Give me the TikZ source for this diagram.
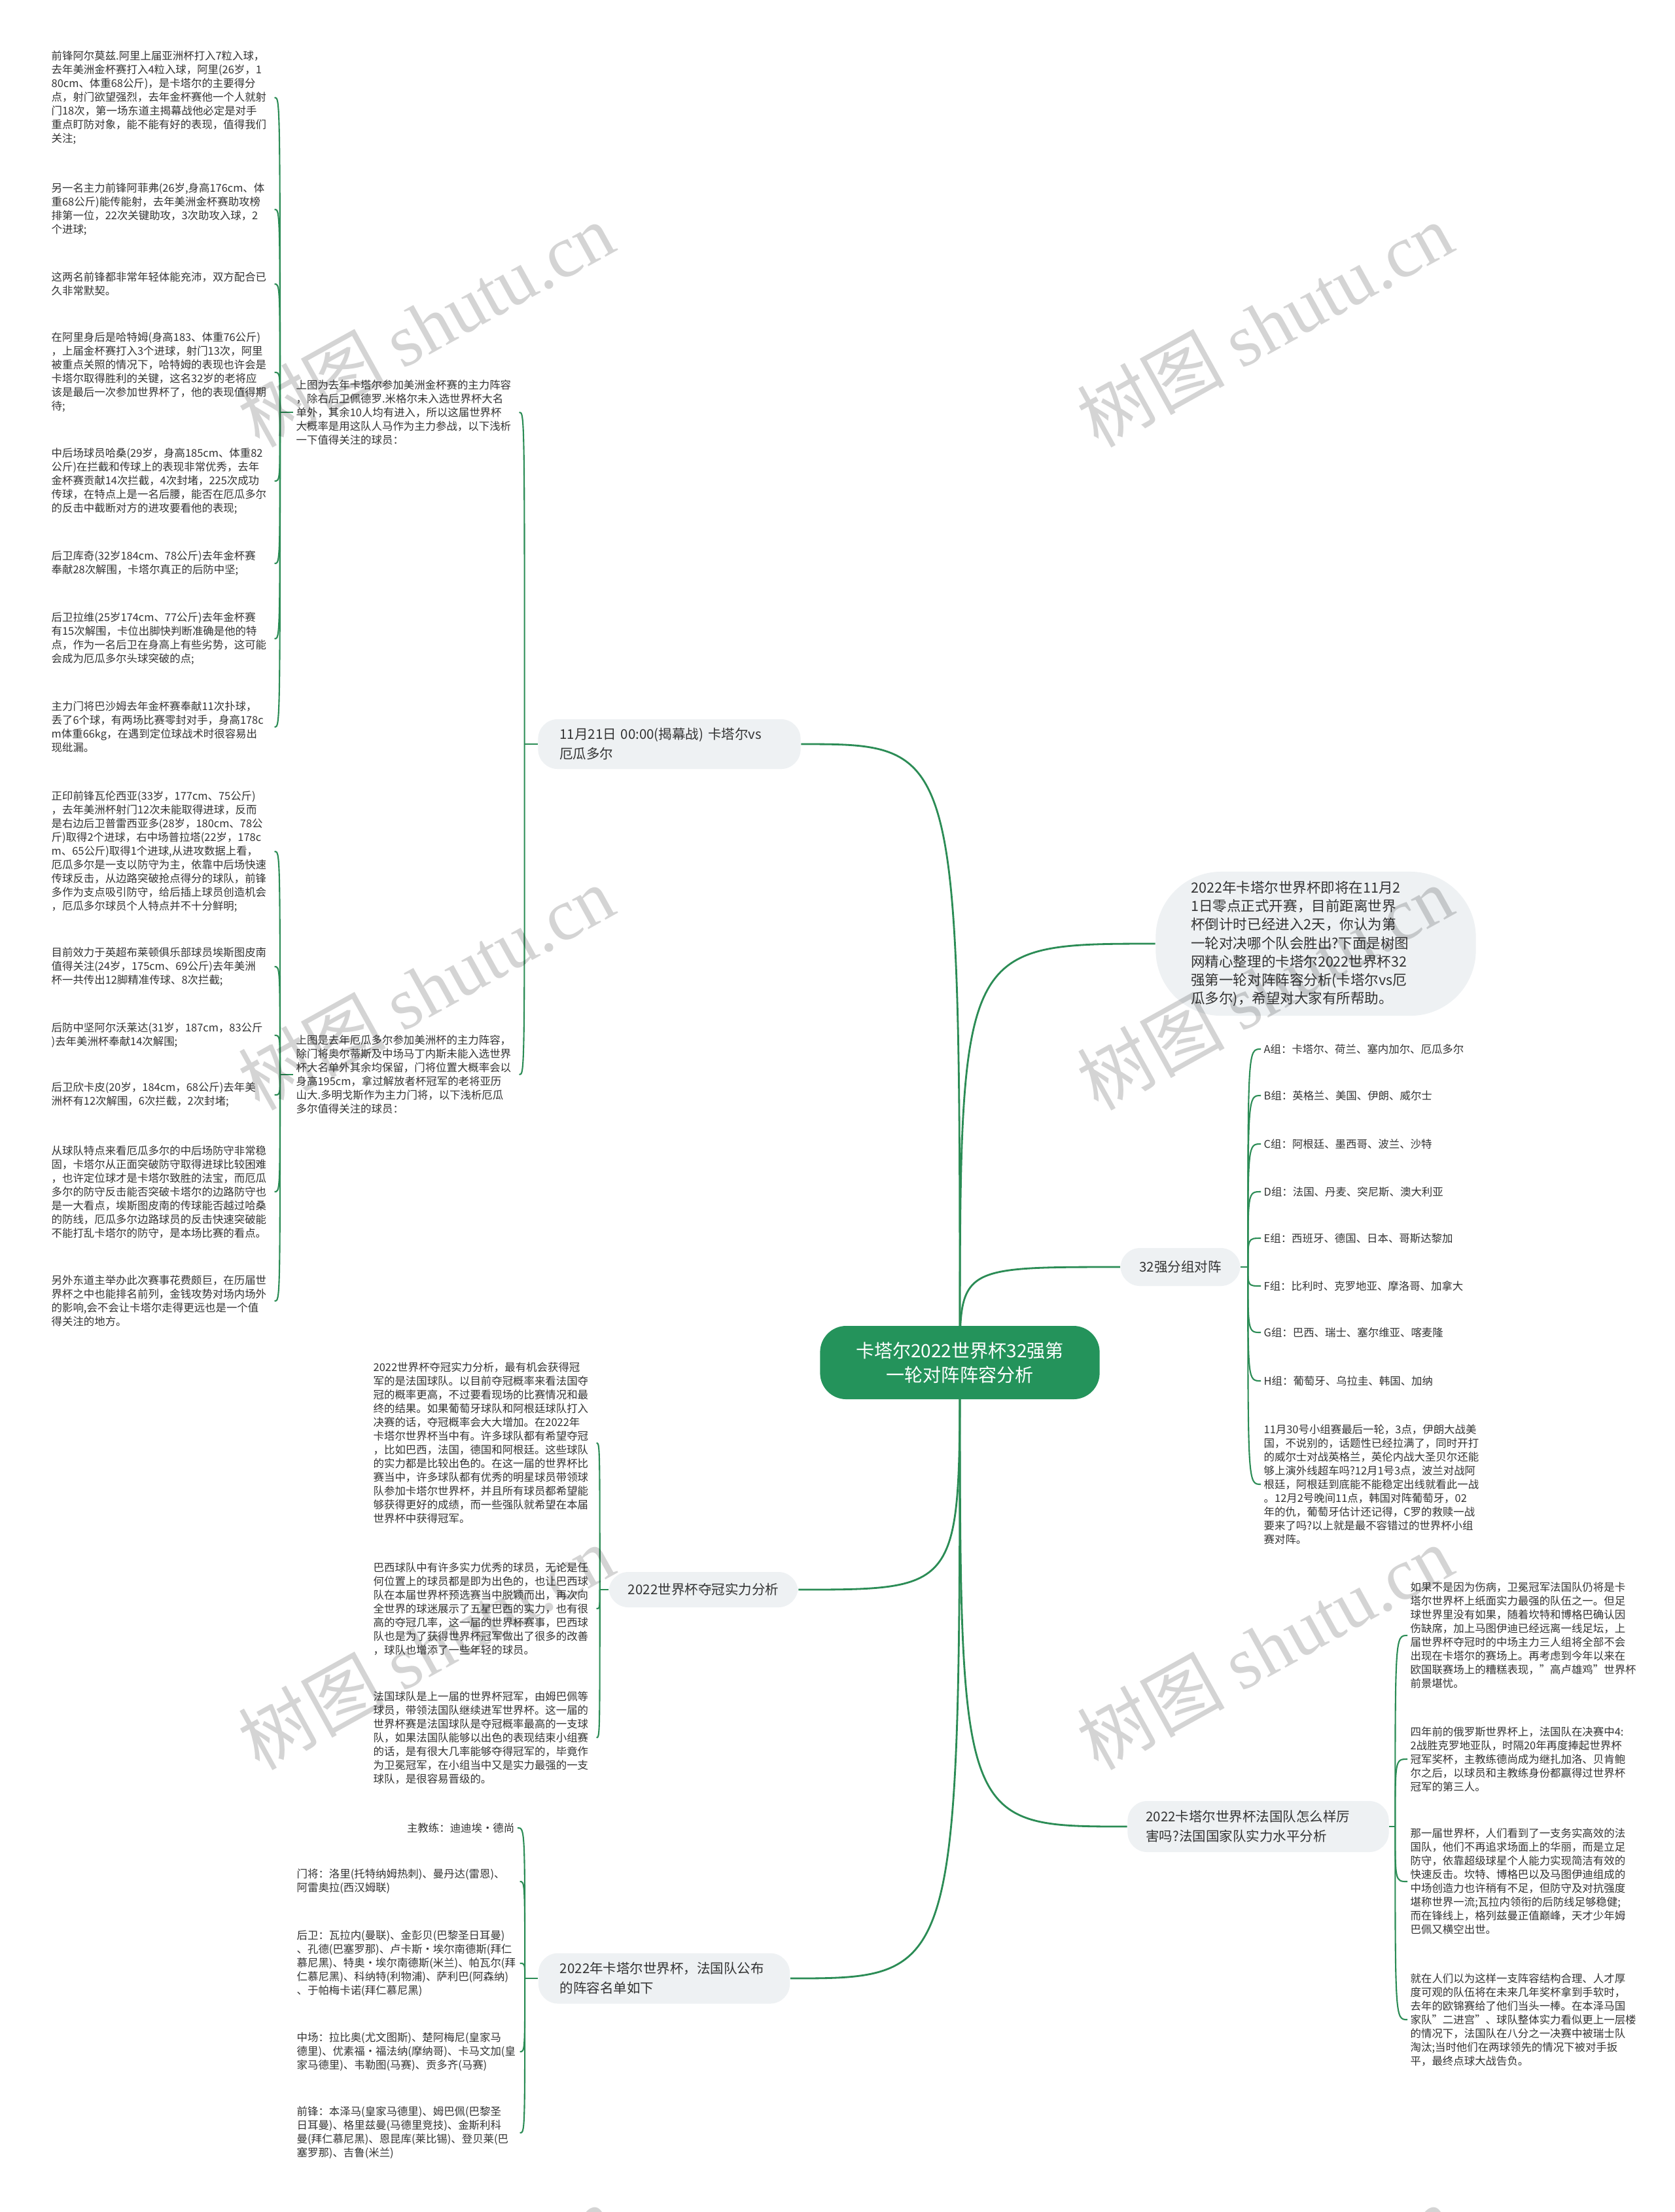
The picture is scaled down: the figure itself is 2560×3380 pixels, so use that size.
\documentclass[tikz,border=0pt]{standalone}
\usepackage{fontspec}
\setmainfont{Noto Sans CJK SC}
\newfontfamily\wmserif{Liberation Serif}
\usetikzlibrary{backgrounds}

\definecolor{mapgreen}{HTML}{2B8C55}
\definecolor{rootgreen}{HTML}{24935B}
\definecolor{boxgray}{HTML}{EEF1F3}
\definecolor{inkgray}{HTML}{333333}

\newcommand\leaffont{\fontsize{4.67pt}{5.98pt}\selectfont}
\newcommand\branchfont{\fontsize{5.83pt}{8.5pt}\selectfont}
\newcommand\rootfont{\fontsize{7.97pt}{10.5pt}\selectfont}
\newcommand\introfont{\fontsize{6.12pt}{7.97pt}\selectfont}
\newcommand\wmfont{\fontsize{32pt}{32pt}\selectfont}

\begin{document}
\begin{tikzpicture}[x=0.01cm, y=-0.01cm]
\tikzset{ leaf/.style={font=\leaffont, text=inkgray, align=left, anchor=west, inner xsep=0.04cm, inner ysep=0pt, text width=3.36cm},
  tag/.style={font=\leaffont, text=inkgray, anchor=west, inner xsep=0.04cm, inner ysep=0pt},
  branch/.style={font=\branchfont, text=inkgray, fill=boxgray, rounded corners=0.3cm, align=left, inner xsep=0.33cm, inner ysep=0pt},
  rootnode/.style={font=\rootfont, text=white, fill=rootgreen, rounded corners=0.4cm, align=center, minimum width=4.27cm, minimum height=1.12cm},
  link/.style={draw=mapgreen, line width=0.8pt},
  sublink/.style={draw=mapgreen, line width=0.6pt},
  wmark/.style={font=\wmfont, text=black, text opacity=0.17, rotate=29},
}

\useasboundingbox (0,0) rectangle (2560,3380);

% centre
\node [rootnode] (root) at (1467,2082) {卡塔尔2022世界杯32强第\\一轮对阵阵容分析};

% first level
\node [branch, text width=3.35cm, minimum height=0.76cm] (b1) at (1023,1137) {11月21日 00:00(揭幕战) 卡塔尔vs\\厄瓜多尔};
\node [branch, font=\introfont, text width=3.81cm, inner xsep=0.54cm, minimum height=2.2cm, rounded corners=1cm] (intro) at (2011,1442) {2022年卡塔尔世界杯即将在11月2\\1日零点正式开赛，目前距离世界\\杯倒计时已经进入2天，你认为第\\一轮对决哪个队会胜出?下面是树图\\网精心整理的卡塔尔2022世界杯32\\强第一轮对阵阵容分析(卡塔尔vs厄\\瓜多尔)，希望对大家有所帮助。};
\node [branch, align=center, inner xsep=0pt, minimum width=1.83cm, minimum height=0.58cm] (g32) at (1804,1936) {32强分组对阵};
\node [branch, align=center, inner xsep=0pt, minimum width=2.89cm, minimum height=0.54cm] (win) at (1075,2429) {2022世界杯夺冠实力分析};
\node [branch, text width=3.43cm, inner xsep=0.28cm, minimum height=0.78cm] (france) at (1923,2791) {2022卡塔尔世界杯法国队怎么样厉\\害吗?法国国家队实力水平分析};
\node [branch, text width=3.18cm, minimum height=0.77cm] (squad) at (1015,3023) {2022年卡塔尔世界杯，法国队公布\\的阵容名单如下};

% opening match
\node [leaf] (box1) at (448,630) {上图为去年卡塔尔参加美洲金杯赛的主力阵容\\，除右后卫佩德罗.米格尔未入选世界杯大名\\单外，其余10人均有进入，所以这届世界杯\\大概率是用这队人马作为主力参战，以下浅析\\一下值得关注的球员：};
\node [leaf] (box2) at (448,1642) {上图是去年厄瓜多尔参加美洲杯的主力阵容，\\除门将奥尔蒂斯及中场马丁内斯未能入选世界\\杯大名单外其余均保留，门将位置大概率会以\\身高195cm，拿过解放者杯冠军的老将亚历\\山大.多明戈斯作为主力门将，以下浅析厄瓜\\多尔值得关注的球员：};

\node [leaf] (c1) at (74,149) {前锋阿尔莫兹.阿里上届亚洲杯打入7粒入球，\\去年美洲金杯赛打入4粒入球，阿里(26岁，1\\80cm、体重68公斤)，是卡塔尔的主要得分\\点，射门欲望强烈，去年金杯赛他一个人就射\\门18次，第一场东道主揭幕战他必定是对手\\重点盯防对象，能不能有好的表现，值得我们\\关注;};
\node [leaf] (c2) at (74,320) {另一名主力前锋阿菲弗(26岁,身高176cm、体\\重68公斤)能传能射，去年美洲金杯赛助攻榜\\排第一位，22次关键助攻，3次助攻入球，2\\个进球;};
\node [leaf] (c3) at (74,434) {这两名前锋都非常年轻体能充沛，双方配合已\\久非常默契。};
\node [leaf] (c4) at (74,569) {在阿里身后是哈特姆(身高183、体重76公斤)\\，上届金杯赛打入3个进球，射门13次，阿里\\被重点关照的情况下，哈特姆的表现也许会是\\卡塔尔取得胜利的关键，这名32岁的老将应\\该是最后一次参加世界杯了，他的表现值得期\\待;};
\node [leaf] (c5) at (74,735) {中后场球员哈桑(29岁，身高185cm、体重82\\公斤)在拦截和传球上的表现非常优秀，去年\\金杯赛贡献14次拦截，4次封堵，225次成功\\传球，在特点上是一名后腰，能否在厄瓜多尔\\的反击中截断对方的进攻要看他的表现;};
\node [leaf] (c6) at (74,861) {后卫库奇(32岁184cm、78公斤)去年金杯赛\\奉献28次解围，卡塔尔真正的后防中坚;};
\node [leaf] (c7) at (74,976) {后卫拉维(25岁174cm、77公斤)去年金杯赛\\有15次解围，卡位出脚快判断准确是他的特\\点，作为一名后卫在身高上有些劣势，这可能\\会成为厄瓜多尔头球突破的点;};
\node [leaf] (c8) at (74,1111) {主力门将巴沙姆去年金杯赛奉献11次扑球，\\丢了6个球，有两场比赛零封对手，身高178c\\m体重66kg，在遇到定位球战术时很容易出\\现纰漏。};

\node [leaf] (c9) at (74,1301) {正印前锋瓦伦西亚(33岁，177cm、75公斤)\\，去年美洲杯射门12次未能取得进球，反而\\是右边后卫普雷西亚多(28岁，180cm、78公\\斤)取得2个进球，右中场普拉塔(22岁，178c\\m、65公斤)取得1个进球,从进攻数据上看，\\厄瓜多尔是一支以防守为主，依靠中后场快速\\传球反击，从边路突破抢点得分的球队，前锋\\多作为支点吸引防守，给后插上球员创造机会\\，厄瓜多尔球员个人特点并不十分鲜明;};
\node [leaf] (c10) at (74,1477) {目前效力于英超布莱顿俱乐部球员埃斯图皮南\\值得关注(24岁，175cm、69公斤)去年美洲\\杯一共传出12脚精准传球、8次拦截;};
\node [leaf] (c11) at (74,1582) {后防中坚阿尔沃莱达(31岁，187cm，83公斤\\)去年美洲杯奉献14次解围;};
\node [leaf] (c12) at (74,1673) {后卫欣卡皮(20岁，184cm，68公斤)去年美\\洲杯有12次解围，6次拦截，2次封堵;};
\node [leaf] (c13) at (74,1821) {从球队特点来看厄瓜多尔的中后场防守非常稳\\固，卡塔尔从正面突破防守取得进球比较困难\\，也许定位球才是卡塔尔致胜的法宝，而厄瓜\\多尔的防守反击能否突破卡塔尔的边路防守也\\是一大看点，埃斯图皮南的传球能否越过哈桑\\的防线，厄瓜多尔边路球员的反击快速突破能\\不能打乱卡塔尔的防守，是本场比赛的看点。};
\node [leaf] (c14) at (74,1988) {另外东道主举办此次赛事花费颇巨，在历届世\\界杯之中也能排名前列，金钱攻势对场内场外\\的影响,会不会让卡塔尔走得更远也是一个值\\得关注的地方。};

% groups
\node [tag] (gA) at (1927,1603) {A组：卡塔尔、荷兰、塞内加尔、厄瓜多尔};
\node [tag] (gB) at (1927,1674) {B组：英格兰、美国、伊朗、威尔士};
\node [tag] (gC) at (1927,1748) {C组：阿根廷、墨西哥、波兰、沙特};
\node [tag] (gD) at (1927,1821) {D组：法国、丹麦、突尼斯、澳大利亚};
\node [tag] (gE) at (1927,1892) {E组：西班牙、德国、日本、哥斯达黎加};
\node [tag] (gF) at (1927,1965) {F组：比利时、克罗地亚、摩洛哥、加拿大};
\node [tag] (gG) at (1927,2036) {G组：巴西、瑞士、塞尔维亚、喀麦隆};
\node [tag] (gH) at (1927,2110) {H组：葡萄牙、乌拉圭、韩国、加纳};
\node [leaf] (note) at (1927,2268) {11月30号小组赛最后一轮，3点，伊朗大战美\\国，不说别的，话题性已经拉满了，同时开打\\的威尔士对战英格兰，英伦内战大圣贝尔还能\\够上演外线超车吗?12月1号3点，波兰对战阿\\根廷，阿根廷到底能不能稳定出线就看此一战\\。12月2号晚间11点，韩国对阵葡萄牙，02\\年的仇，葡萄牙估计还记得，C罗的救赎一战\\要来了吗?以上就是最不容错过的世界杯小组\\赛对阵。};

% title chances
\node [leaf] (d1) at (566,2205) {2022世界杯夺冠实力分析，最有机会获得冠\\军的是法国球队。以目前夺冠概率来看法国夺\\冠的概率更高，不过要看现场的比赛情况和最\\终的结果。如果葡萄牙球队和阿根廷球队打入\\决赛的话，夺冠概率会大大增加。在2022年\\卡塔尔世界杯当中有。许多球队都有希望夺冠\\，比如巴西，法国，德国和阿根廷。这些球队\\的实力都是比较出色的。在这一届的世界杯比\\赛当中，许多球队都有优秀的明星球员带领球\\队参加卡塔尔世界杯，并且所有球员都希望能\\够获得更好的成绩，而一些强队就希望在本届\\世界杯中获得冠军。};
\node [leaf] (d2) at (566,2458) {巴西球队中有许多实力优秀的球员，无论是任\\何位置上的球员都是即为出色的，也让巴西球\\队在本届世界杯预选赛当中脱颖而出，再次向\\全世界的球迷展示了五星巴西的实力，也有很\\高的夺冠几率，这一届的世界杯赛事，巴西球\\队也是为了获得世界杯冠军做出了很多的改善\\，球队也增添了一些年轻的球员。};
\node [leaf] (d3) at (566,2655) {法国球队是上一届的世界杯冠军，由姆巴佩等\\球员，带领法国队继续进军世界杯。这一届的\\世界杯赛是法国球队是夺冠概率最高的一支球\\队，如果法国队能够以出色的表现结束小组赛\\的话，是有很大几率能够夺得冠军的，毕竟作\\为卫冕冠军，在小组当中又是实力最强的一支\\球队，是很容易晋级的。};

% france
\node [leaf] (f1) at (2151,2499) {如果不是因为伤病，卫冕冠军法国队仍将是卡\\塔尔世界杯上纸面实力最强的队伍之一。但足\\球世界里没有如果，随着坎特和博格巴确认因\\伤缺席，加上马图伊迪已经远离一线足坛，上\\届世界杯夺冠时的中场主力三人组将全部不会\\出现在卡塔尔的赛场上。再考虑到今年以来在\\欧国联赛场上的糟糕表现，"高卢雄鸡"世界杯\\前景堪忧。};
\node [leaf] (f2) at (2151,2688) {四年前的俄罗斯世界杯上，法国队在决赛中4:\\2战胜克罗地亚队，时隔20年再度捧起世界杯\\冠军奖杯，主教练德尚成为继扎加洛、贝肯鲍\\尔之后，以球员和主教练身份都赢得过世界杯\\冠军的第三人。};
\node [leaf] (f3) at (2151,2875) {那一届世界杯，人们看到了一支务实高效的法\\国队，他们不再追求场面上的华丽，而是立足\\防守，依靠超级球星个人能力实现简洁有效的\\快速反击。坎特、博格巴以及马图伊迪组成的\\中场创造力也许稍有不足，但防守及对抗强度\\堪称世界一流;瓦拉内领衔的后防线足够稳健;\\而在锋线上，格列兹曼正值巅峰，天才少年姆\\巴佩又横空出世。};
\node [leaf] (f4) at (2151,3086) {就在人们以为这样一支阵容结构合理、人才厚\\度可观的队伍将在未来几年奖杯拿到手软时，\\去年的欧锦赛给了他们当头一棒。在本泽马国\\家队"二进宫"、球队整体实力看似更上一层楼\\的情况下，法国队在八分之一决赛中被瑞士队\\淘汰;当时他们在两球领先的情况下被对手扳\\平，最终点球大战告负。};

% squad
\node [tag, anchor=east] (e1) at (791,2793) {主教练：迪迪埃·德尚};
\node [leaf] (e2) at (449,2875) {门将：洛里(托特纳姆热刺)、曼丹达(雷恩)、\\阿雷奥拉(西汉姆联)};
\node [leaf] (e3) at (449,3000) {后卫：瓦拉内(曼联)、金彭贝(巴黎圣日耳曼)\\、孔德(巴塞罗那)、卢卡斯·埃尔南德斯(拜仁\\慕尼黑)、特奥·埃尔南德斯(米兰)、帕瓦尔(拜\\仁慕尼黑)、科纳特(利物浦)、萨利巴(阿森纳)\\、于帕梅卡诺(拜仁慕尼黑)};
\node [leaf] (e4) at (449,3135) {中场：拉比奥(尤文图斯)、楚阿梅尼(皇家马\\德里)、优素福·福法纳(摩纳哥)、卡马文加(皇\\家马德里)、韦勒图(马赛)、贡多齐(马赛)};
\node [leaf] (e5) at (449,3259) {前锋：本泽马(皇家马德里)、姆巴佩(巴黎圣\\日耳曼)、格里兹曼(马德里竞技)、金斯利科\\曼(拜仁慕尼黑)、恩昆库(莱比锡)、登贝莱(巴\\塞罗那)、吉鲁(米兰)};

% hubs
\coordinate (hb1) at ([xshift=-0.2cm]b1.west);
\coordinate (hx1) at ([xshift=-0.2cm]box1.west);
\coordinate (hx2) at ([xshift=-0.2cm]box2.west);
\coordinate (hg) at ([xshift=0.11cm]g32.east);
\coordinate (hw) at ([xshift=-0.13cm]win.west);
\coordinate (hf) at ([xshift=0.09cm]france.east);
\coordinate (hs) at ([xshift=-0.2cm]squad.west);

\begin{pgfonlayer}{background}
\fill [white] (0,0) rectangle (2560,3380);

\draw [link] (root.center) .. controls (root.center |- b1.east) .. (b1.east);
\draw [link] (root.center) .. controls (root.center |- intro.west) .. (intro.west);
\draw [link] (root.center) .. controls (root.center |- g32.west) .. (g32.west);
\draw [link] (root.center) .. controls (root.center |- win.east) .. (win.east);
\draw [link] (root.center) .. controls (root.center |- france.west) .. (france.west);
\draw [link] (root.center) .. controls (root.center |- squad.east) .. (squad.east);

\draw [sublink] (b1.west) -- (hb1);
\draw [sublink] (hb1) .. controls (hb1 |- box1.east) .. (box1.east);
\draw [sublink] (hb1) .. controls (hb1 |- box2.east) .. (box2.east);

\draw [sublink] (box1.west) -- (hx1);
\draw [sublink] (hx1) .. controls (hx1 |- c1.east) .. (c1.east);
\draw [sublink] (hx1) .. controls (hx1 |- c2.east) .. (c2.east);
\draw [sublink] (hx1) .. controls (hx1 |- c3.east) .. (c3.east);
\draw [sublink] (hx1) .. controls (hx1 |- c4.east) .. (c4.east);
\draw [sublink] (hx1) .. controls (hx1 |- c5.east) .. (c5.east);
\draw [sublink] (hx1) .. controls (hx1 |- c6.east) .. (c6.east);
\draw [sublink] (hx1) .. controls (hx1 |- c7.east) .. (c7.east);
\draw [sublink] (hx1) .. controls (hx1 |- c8.east) .. (c8.east);

\draw [sublink] (box2.west) -- (hx2);
\draw [sublink] (hx2) .. controls (hx2 |- c9.east) .. (c9.east);
\draw [sublink] (hx2) .. controls (hx2 |- c10.east) .. (c10.east);
\draw [sublink] (hx2) .. controls (hx2 |- c11.east) .. (c11.east);
\draw [sublink] (hx2) .. controls (hx2 |- c12.east) .. (c12.east);
\draw [sublink] (hx2) .. controls (hx2 |- c13.east) .. (c13.east);
\draw [sublink] (hx2) .. controls (hx2 |- c14.east) .. (c14.east);

\draw [sublink] (g32.east) -- (hg);
\draw [sublink] (hg) .. controls (hg |- gA.west) .. (gA.west);
\draw [sublink] (hg) .. controls (hg |- gB.west) .. (gB.west);
\draw [sublink] (hg) .. controls (hg |- gC.west) .. (gC.west);
\draw [sublink] (hg) .. controls (hg |- gD.west) .. (gD.west);
\draw [sublink] (hg) .. controls (hg |- gE.west) .. (gE.west);
\draw [sublink] (hg) .. controls (hg |- gF.west) .. (gF.west);
\draw [sublink] (hg) .. controls (hg |- gG.west) .. (gG.west);
\draw [sublink] (hg) .. controls (hg |- gH.west) .. (gH.west);
\draw [sublink] (hg) .. controls (hg |- note.west) .. (note.west);

\draw [sublink] (win.west) -- (hw);
\draw [sublink] (hw) .. controls (hw |- d1.east) .. (d1.east);
\draw [sublink] (hw) .. controls (hw |- d2.east) .. (d2.east);
\draw [sublink] (hw) .. controls (hw |- d3.east) .. (d3.east);

\draw [sublink] (france.east) -- (hf);
\draw [sublink] (hf) .. controls (hf |- f1.west) .. (f1.west);
\draw [sublink] (hf) .. controls (hf |- f2.west) .. (f2.west);
\draw [sublink] (hf) .. controls (hf |- f3.west) .. (f3.west);
\draw [sublink] (hf) .. controls (hf |- f4.west) .. (f4.west);

\draw [sublink] (squad.west) -- (hs);
\draw [sublink] (hs) .. controls (hs |- e1.east) .. (e1.east);
\draw [sublink] (hs) .. controls (hs |- e2.east) .. (e2.east);
\draw [sublink] (hs) .. controls (hs |- e3.east) .. (e3.east);
\draw [sublink] (hs) .. controls (hs |- e4.east) .. (e4.east);
\draw [sublink] (hs) .. controls (hs |- e5.east) .. (e5.east);
\end{pgfonlayer}

% watermark
\node [wmark] (wm1) at (651,496) {树图 {\wmserif shutu.cn}};
\node [wmark] (wm2) at (1933,496) {树图 {\wmserif shutu.cn}};
\node [wmark] (wm3) at (651,1509) {树图 {\wmserif shutu.cn}};
\node [wmark] (wm4) at (1933,1509) {树图 {\wmserif shutu.cn}};
\node [wmark] (wm5) at (651,2517) {树图 {\wmserif shutu.cn}};
\node [wmark] (wm6) at (1933,2517) {树图 {\wmserif shutu.cn}};
\node [wmark] (wm7) at (651,3526) {树图 {\wmserif shutu.cn}};
\node [wmark] (wm8) at (1933,3526) {树图 {\wmserif shutu.cn}};
\end{tikzpicture}
\end{document}
